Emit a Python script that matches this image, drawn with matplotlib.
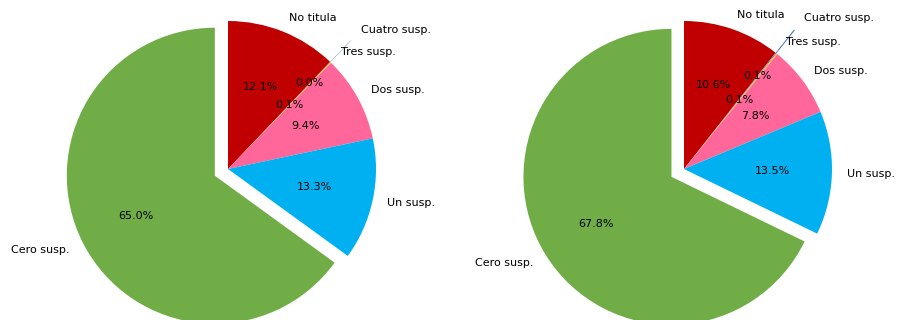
import matplotlib
matplotlib.use("Agg")
import matplotlib.pyplot as plt

# categories in drawing order (clockwise from the top)
labels = ["No titula", "Cuatro susp.", "Tres susp.", "Dos susp.", "Un susp.", "Cero susp."]
colors = ["#C00000", "#4472C4", "#FFC000", "#FF6699", "#00B0F0", "#70AD47"]
explode = [0, 0.2, 0, 0, 0, 0.1]

# share of each group (%)
left_values = [12.12, 0.04, 0.10, 9.42, 13.31, 65.01]
right_values = [10.62, 0.12, 0.12, 7.83, 13.50, 67.81]

W, H = 919, 320
R = 148  # pie radius in pixels

fig = plt.figure(figsize=(W / 100, H / 100), dpi=100)

# (values, left edge of axes in px, pie centre x in px)
for vals, x0, cx in [(left_values, 0, 228), (right_values, W / 2, 684)]:
    ax = fig.add_axes([x0 / W, 0, 0.5, 1])
    ax.pie(vals, labels=labels, colors=colors, explode=explode,
           autopct="%1.1f%%", startangle=90, counterclock=False,
           textprops={"fontsize": 8, "color": "black"})
    off = cx - x0
    ax.set_xlim(-off / R, (W / 2 - off) / R)
    ax.set_ylim(-(H - 169) / R, 169 / R)
    ax.set_aspect("equal")
    ax.axis("off")

fig.savefig("out.png", dpi=100)
